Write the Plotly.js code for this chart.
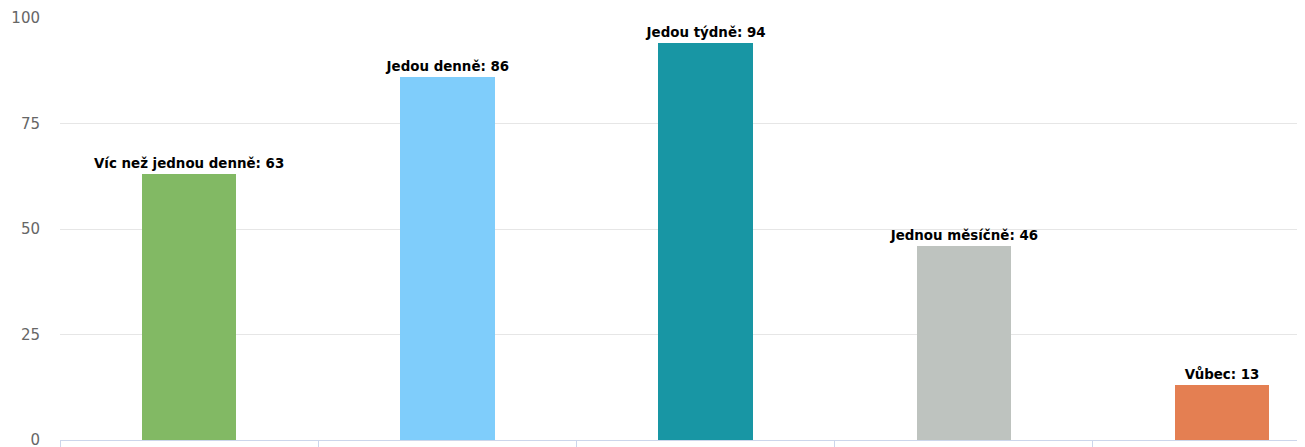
<!DOCTYPE html>
<html>
<head>
<meta charset="utf-8">
<script src="https://cdn.plot.ly/plotly-3.0.1.min.js"></script>
<style>html,body{margin:0;padding:0;background:#fff;}#chart{width:1305px;height:447px;}</style>
</head>
<body>
<div id="chart"></div>
<script>
const categories = ["Víc než jednou denně", "Jedou denně", "Jedou týdně", "Jednou měsíčně", "Vůbec"];
const values = [63, 86, 94, 46, 13];
const colors = ["#82b964", "#7fcdfb", "#1896a4", "#bec3bf", "#e47f52"];
const yTicks = [0, 25, 50, 75, 100];

const xs = categories.map((c, i) => i);
const trace = {
  type: "bar",
  x: xs,
  y: values,
  width: 0.365,
  marker: {color: colors, line: {width: 0}},
  text: categories.map((c, i) => "<b>" + c + ": " + values[i] + "</b>"),
  textposition: "outside",
  constraintext: "none",
  cliponaxis: false,
  textfont: {family: "DejaVu Sans, sans-serif", size: 13.4, color: "#000"},
  hoverinfo: "none"
};
const layout = {
  width: 1305, height: 447,
  margin: {l: 60, r: 8, t: 18, b: 7},
  paper_bgcolor: "#fff", plot_bgcolor: "#fff",
  showlegend: false,
  bargap: 0,
  xaxis: {
    range: [-0.5, 4.29],
    tickvals: [-0.5, 0.5, 1.5, 2.5, 3.5],
    showticklabels: false,
    ticks: "outside", ticklen: 10, tickcolor: "#ccd6eb", tickwidth: 1,
    showline: true, linecolor: "#ccd6eb", linewidth: 1,
    showgrid: false, zeroline: false, fixedrange: true
  },
  yaxis: {
    range: [0, 100],
    tickvals: yTicks,
    ticktext: yTicks.map(String),
    tickfont: {family: "DejaVu Sans, sans-serif", size: 15, color: "#666"},
    ticklabelstandoff: 19,
    ticklabeloverflow: "allow",
    gridcolor: "#e6e6e6", gridwidth: 1,
    zeroline: false, showline: false, fixedrange: true
  }
};
Plotly.newPlot("chart", [trace], layout, {displayModeBar: false, staticPlot: true});
</script>
</body>
</html>
